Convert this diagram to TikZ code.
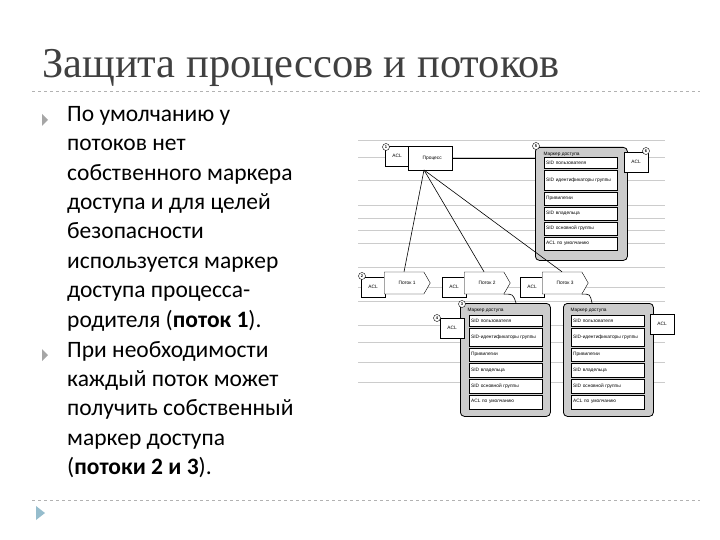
\documentclass[tikz,border=0pt]{standalone}
\usepackage{fontspec}
\setmainfont{Carlito}
\newfontfamily\titlefont{Liberation Serif}
\newfontfamily\figfont{Liberation Sans}
\usetikzlibrary{shapes.symbols,shapes.geometric}
\begin{document}
\begin{tikzpicture}[x=1pt,y=-1pt,
  tiny/.style={font=\figfont\fontsize{4.8}{5.2}\selectfont},
  row/.style={draw,fill=white,tiny,anchor=north west,minimum width=73,minimum height=#1,inner sep=1pt,align=left,text width=69},
  token/.style={draw,rounded corners=4,fill=gray!40,line width=0.8pt,anchor=north west,minimum width=#1,minimum height=113},
  aclbox/.style={draw,fill=white,tiny,minimum width=24,minimum height=20},
  thread/.style={draw,fill=white,tiny,signal,signal to=east,minimum width=46,minimum height=22,signal pointer angle=120},
  num/.style={circle,draw,fill=white,font=\figfont\bfseries\fontsize{4}{4}\selectfont,inner sep=0.4pt,minimum size=7},
  bul/.style={fill=gray!70,draw=none},
  ruleline/.style={gray!40,line width=0.6pt},
  conn/.style={line width=0.6pt}]
\useasboundingbox (0,0) rectangle (720,540);
\node[anchor=base west,font=\titlefont\fontsize{42.5}{42.5}\selectfont,text=black!75,inner sep=0] (title) at (42,78) {Защита процессов и потоков};
\draw[gray!60,dashed,line width=0.6pt] (32,91) -- (700,91);
\draw[gray!60,dashed,line width=0.6pt] (32,500) -- (700,500);
\fill[bul] (42,114) -- (48,120) -- (42,126) -- cycle;
\fill[bul] (42,349) -- (48,355) -- (42,361) -- cycle;
\fill[cyan!40!gray!70] (36,506) -- (45,513) -- (36,520) -- cycle;
\node[anchor=north west,align=left,font=\fontsize{23.5}{29.4}\selectfont,inner sep=0] (b1) at (67,106) {По умолчанию у\\потоков нет\\собственного маркера\\доступа и для целей\\безопасности\\используется маркер\\доступа процесса-\\родителя (\textbf{поток 1}).};
\node[anchor=north west,align=left,font=\fontsize{23.5}{29.4}\selectfont,inner sep=0] (b2) at (67,341) {При необходимости\\каждый поток может\\получить собственный\\маркер доступа\\(\textbf{потоки 2 и 3}).};
% ruled background
\foreach \yy in {140,157,180,205,218,230,243,267,287,301,325,342,362,382}
  \draw[ruleline] (358,\yy) -- (665,\yy);
% process
\node[aclbox] (pacl) at (397,156) {ACL};
\node[draw,fill=white,tiny,minimum width=44,minimum height=24,anchor=west] (proc) at (408,158) {\hspace{4pt}Процесс};
\node[num] (n1) at (386,147) {1};
% token 1
\node[token=92] (tok1) at (535,147) {};
\node[tiny,anchor=north west] (tok1h) at (540,149) {Маркер доступа};
\node[row=11] (r11) at (544,157) {SID пользователя};
\node[row=20] (r12) at ([yshift=-1.5pt]r11.south west) {SID идентификаторы группы};
\node[row=13] (r13) at ([yshift=-1.5pt]r12.south west) {Привилегии};
\node[row=13] (r14) at ([yshift=-1.5pt]r13.south west) {SID владельца};
\node[row=13] (r15) at ([yshift=-1.5pt]r14.south west) {SID основной группы};
\node[row=13] (r16) at ([yshift=-1.5pt]r15.south west) {ACL по умолчанию};
\node[aclbox] (acl1) at (636,162) {ACL};
\node[num] (n5) at (536,146) {5};
\node[num] (n6) at (646,151) {6};
\draw[conn] (proc.east) -- (tok1.west |- proc.east);
% threads
\node[aclbox] (t1acl) at (373,287) {ACL};
\node[thread,anchor=west] (t1) at (384,283) {\hspace{6pt}Поток 1};
\node[aclbox] (t2acl) at (454,287) {ACL};
\node[thread,anchor=west] (t2) at (464,283) {\hspace{6pt}Поток 2};
\node[aclbox] (t3acl) at (532,287) {ACL};
\node[thread,anchor=west] (t3) at (542,283) {\hspace{6pt}Поток 3};
\node[num] (n2) at (362,276) {2};
\coordinate (pb) at (424,170);
\draw[conn] (pb) -- (t1.north);
\draw[conn] (pb) -- (t2.north);
\draw[conn] (pb) -- (t3.north);
% token 2
\node[token=90] (tok2) at (460,303) {};
\node[tiny,anchor=north west] (tok2h) at (464,305) {Маркер доступа};
\node[row=11] (r21) at (469,315) {SID пользователя};
\node[row=18] (r22) at ([yshift=-1.5pt]r21.south west) {SID-идентификаторы группы};
\node[row=13] (r23) at ([yshift=-1.5pt]r22.south west) {Привилегии};
\node[row=14] (r24) at ([yshift=-1.5pt]r23.south west) {SID владельца};
\node[row=14] (r25) at ([yshift=-1.5pt]r24.south west) {SID основной группы};
\node[row=14] (r26) at ([yshift=-1.5pt]r25.south west) {ACL по умолчанию};
\node[aclbox] (acl2) at (452,328) {ACL};
\node[num] (n3) at (462,304) {3};
\node[num] (n4) at (437,318) {4};
% token 3
\node[token=90] (tok3) at (563,303) {};
\node[tiny,anchor=north west] (tok3h) at (567,305) {Маркер доступа};
\node[row=11] (r31) at (571,315) {SID пользователя};
\node[row=18] (r32) at ([yshift=-1.5pt]r31.south west) {SID-идентификаторы группы};
\node[row=13] (r33) at ([yshift=-1.5pt]r32.south west) {Привилегии};
\node[row=14] (r34) at ([yshift=-1.5pt]r33.south west) {SID владельца};
\node[row=14] (r35) at ([yshift=-1.5pt]r34.south west) {SID основной группы};
\node[row=14] (r36) at ([yshift=-1.5pt]r35.south west) {ACL по умолчанию};
\node[aclbox] (acl3) at (662,324) {ACL};
\draw[conn] (t2.south east) .. controls (513,294) .. (516,303);
\draw[conn] (t3.south east) .. controls (590,294) .. (592,303);
\end{tikzpicture}
\end{document}
